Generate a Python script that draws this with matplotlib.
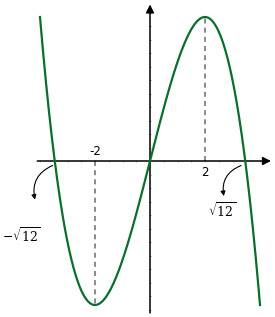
import numpy as np
import matplotlib
matplotlib.use("Agg")
import matplotlib.pyplot as plt
from matplotlib.patches import FancyArrowPatch

# Data: f(x) = -x^3 + 12x
coef_a = -1.0
coef_b = 12.0
x_range = [-4.0, 4.0]
extrema_x = [-2, 2]
tick_labels = ["-2", "2"]
root_labels = [r"$-\sqrt{12}$", r"$\sqrt{12}$"]
roots = [-np.sqrt(12), np.sqrt(12)]

x = np.linspace(x_range[0], x_range[1], 400)
y = coef_a * x**3 + coef_b * x

plt.rcParams['mathtext.fontset'] = 'dejavuserif'
fig = plt.figure(figsize=(2.75, 3.17), dpi=100)
ax = fig.add_axes([0, 0, 1, 1])
ax.set_xlim(-150/27.5, 125/27.5)
ax.set_ylim(-(317-161)/9, 161/9)
ax.axis('off')

# faint ticks
for t in np.arange(-4, 4.01, 0.5):
    if abs(t) > 1e-9:
        ax.plot([t, t], [-0.15, 0.15], color='#cccccc', lw=0.6, zorder=1)
for t in np.arange(-16.5, 17, 1.5):
    if abs(t) > 1e-9:
        ax.plot([-0.05, 0.05], [t, t], color='#bbbbbb', lw=0.6, zorder=1)

# axes
ax.annotate('', xy=(4.5, 0), xytext=(-4.2, 0),
            arrowprops=dict(arrowstyle='-|>', color='black', lw=1.1, mutation_scale=12))
ax.annotate('', xy=(0, 17.7), xytext=(0, -17.2),
            arrowprops=dict(arrowstyle='-|>', color='black', lw=1.1, mutation_scale=12))

# dashed lines at extrema
for ex in extrema_x:
    ey = coef_a * ex**3 + coef_b * ex
    ax.plot([ex, ex], [0, ey], color='#777777', lw=1.2, ls=(0, (3, 2.5)), zorder=2)

ax.plot(x, y, color='#0a6e2c', lw=1.6, zorder=3)

# tick labels
ax.text(extrema_x[0], 0.3, tick_labels[0], ha='center', va='bottom', fontsize=8.5)
ax.text(extrema_x[1], -0.6, tick_labels[1], ha='center', va='top', fontsize=8.5)

# root labels with curved arrows
ax.text(-5.4, -8.3, root_labels[0], ha='left', va='center', fontsize=9)
ax.text(2.1, -5.5, root_labels[1], ha='left', va='center', fontsize=9)
a1 = FancyArrowPatch((roots[0]-0.08, -0.5), (roots[0]-0.72, -4.3),
                     connectionstyle='arc3,rad=0.4', arrowstyle='-|>',
                     mutation_scale=7, color='black', lw=0.8,
                     shrinkA=0, shrinkB=0)
a2 = FancyArrowPatch((roots[1]-0.15, -0.5), (roots[1]-0.78, -3.9),
                     connectionstyle='arc3,rad=0.4', arrowstyle='-|>',
                     mutation_scale=7, color='black', lw=0.8,
                     shrinkA=0, shrinkB=0)
ax.add_patch(a1)
ax.add_patch(a2)

fig.savefig('out.png', dpi=100)
